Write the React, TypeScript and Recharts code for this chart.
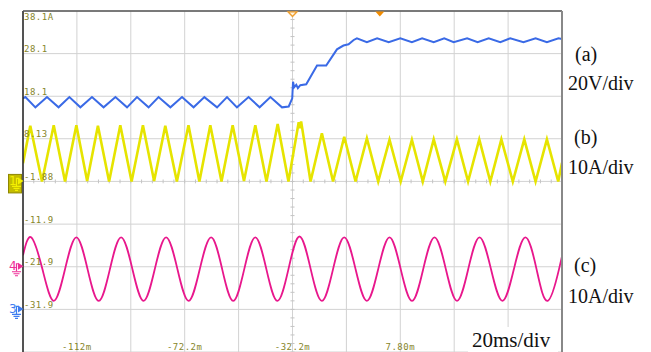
import React from 'react';
import { LineChart, Line, XAxis, YAxis, CartesianGrid, ReferenceLine, ReferenceDot } from 'recharts';

// Time axis (ms) and vertical scale (grid units, 10 per division)
const X_MIN = -132.2;
const X_MAX = 67.8;
const Y_MIN = -41.9;
const Y_MAX = 38.1;

const gridTimes = [-132.2, -112.2, -92.2, -72.2, -52.2, -32.2, -12.2, 7.8, 27.8, 47.8, 67.8];
const xLabelTimes = [-112.2, -72.2, -32.2, 7.8];
const xLabelTexts = ['-112m', '-72.2m', '-32.2m', '7.80m'];

const yTickValues = [38.1, 28.1, 18.1, 8.13, -1.88, -11.9, -21.9, -31.9, -41.9];
const yTickTexts = ['38.1A', '28.1', '18.1', '8.13', '-1.88', '-11.9', '-21.9', '-31.9', ''];

// (a) blue trace: [time ms, value]
const traceA: [number, number][] = [
  [-132.2, 17.6], [-131.3, 17.9], [-127.6, 15.5], [-123.3, 17.9], [-119.0, 15.5], [-115.0, 17.9],
  [-110.9, 15.5], [-106.6, 17.9], [-102.3, 15.5], [-97.9, 17.9], [-93.6, 15.5], [-89.9, 17.9],
  [-85.6, 15.5], [-81.9, 17.9], [-77.5, 15.5], [-73.2, 17.9], [-68.9, 15.5], [-64.9, 17.9],
  [-60.2, 15.5], [-56.5, 17.9], [-52.8, 15.5], [-48.5, 17.9], [-44.4, 15.5], [-40.4, 17.9],
  [-36.1, 15.5], [-33.6, 15.7], [-32.3, 17.6], [-32.0, 21.5], [-31.6, 20.2], [-30.8, 20.8],
  [-30.2, 20.0], [-29.3, 20.7], [-27.1, 20.9], [-23.1, 25.3], [-19.7, 25.3], [-15.7, 29.1],
  [-13.3, 30.0], [-11.4, 30.3], [-9.5, 31.3], [-8.3, 31.7], [-4.6, 30.8], [-0.8, 31.7],
  [3.5, 30.8], [7.8, 31.7], [12.1, 30.8], [15.9, 31.7], [20.2, 30.8], [24.1, 31.7],
  [27.6, 30.8], [32.6, 31.7], [36.5, 30.8], [40.6, 31.7], [44.9, 30.8], [48.6, 31.7],
  [53.5, 30.8], [58.0, 31.7], [62.2, 30.8], [66.5, 31.7], [67.8, 31.5],
];

// (b) yellow trace
const traceB: [number, number][] = [
  [-132.2, 2.4], [-129.5, 11.2], [-125.15, -1.9], [-120.8, 11.3], [-116.6, -1.9], [-112.4, 11.3],
  [-108.4, -1.8], [-104.4, 11.2], [-100.25, -1.9], [-96.1, 11.3], [-91.9, -1.9], [-87.7, 11.3],
  [-83.55, -1.8], [-79.4, 11.2], [-75.1, -1.9], [-70.8, 11.3], [-66.75, -1.9], [-62.7, 11.3],
  [-58.55, -1.9], [-54.4, 11.3], [-50.2, -1.8], [-46.0, 11.3], [-41.85, -1.9], [-37.7, 11.6],
  [-33.7, -1.9], [-29.9, 12.0], [-29.4, 10.6], [-29.0, 12.2], [-25.5, -1.9], [-21.3, 9.4],
  [-17.15, -1.9], [-13.0, 8.6], [-8.8, -1.9], [-4.6, 8.2], [-0.4, -1.9], [3.8, 7.9],
  [7.95, -1.9], [12.1, 7.9], [16.15, -1.9], [20.2, 8.0], [24.5, -1.9], [28.8, 8.0],
  [32.95, -1.9], [37.1, 8.0], [41.2, -1.9], [45.3, 8.0], [49.55, -1.9], [53.8, 8.0],
  [58.0, -1.9], [62.2, 8.0], [66.4, -1.9], [67.8, 2.5],
];

// (c) magenta trace
const traceC: [number, number][] = [
  [-132.2, -19.2], [-129.2, -15.0], [-125.0, -22.45], [-120.8, -29.9], [-116.6, -22.45], [-112.4, -15.0],
  [-108.25, -22.45], [-104.1, -29.9], [-99.95, -22.45], [-95.8, -15.0], [-91.6, -22.45], [-87.45, -29.9],
  [-83.3, -22.45], [-79.1, -15.0], [-74.9, -22.45], [-70.75, -29.9], [-66.6, -22.45], [-62.4, -15.0],
  [-58.3, -22.45], [-54.2, -29.9], [-50.1, -22.45], [-46.0, -15.0], [-41.9, -22.45], [-37.8, -29.9],
  [-33.7, -22.45], [-29.6, -14.8], [-25.45, -22.45], [-21.3, -29.9], [-17.15, -22.45], [-13.0, -15.0],
  [-8.8, -22.45], [-4.6, -29.9], [-0.4, -22.45], [3.8, -15.0], [7.95, -22.45], [12.15, -29.9],
  [16.3, -22.45], [20.5, -15.0], [24.7, -22.45], [28.85, -29.9], [33.0, -22.45], [37.2, -15.0],
  [41.45, -22.45], [45.7, -29.9], [49.95, -22.45], [54.2, -15.0], [58.35, -22.45], [62.5, -29.9],
  [66.7, -22.45], [67.8, -19.4],
];

const toRows = (arr: [number, number][]) => arr.map(([t, v]) => ({ t, v }));
const dataA = toRows(traceA);
const dataB = toRows(traceB);
const dataC = toRows(traceC);

const CENTER_T = -32.2;
const CENTER_V = -1.88;
const TRIGGER_T = 0.2;

// minor ticks along center lines (5 per division)
const minorTimes: number[] = [];
for (let i = 0; i <= 50; i++) minorTimes.push(X_MIN + i * 4);
const minorVals: number[] = [];
for (let i = 0; i <= 40; i++) minorVals.push(Y_MAX - i * 2);

const LABEL_COLOR = '#87862a';
const MONO = "'DejaVu Sans Mono', monospace";
const SERIF = "'Liberation Serif', 'Times New Roman', serif";

const XTick = (props: any) => {
  const { x, payload } = props;
  const idx = xLabelTimes.findIndex((t) => Math.abs(t - payload.value) < 0.01);
  if (idx < 0) return <g />;
  return (
    <text x={x} y={350} textAnchor="middle" fontFamily={MONO} fontSize={9} letterSpacing={0.5} fill={LABEL_COLOR}>
      {xLabelTexts[idx]}
    </text>
  );
};

const YTick = (props: any) => {
  const { y, payload } = props;
  const idx = yTickValues.findIndex((v) => Math.abs(v - payload.value) < 0.001);
  if (idx < 0 || !yTickTexts[idx]) return <g />;
  const yy = idx === 0 ? y + 8.5 : y - 1.5;
  return (
    <text x={24} y={yy} textAnchor="start" fontFamily={MONO} fontSize={9} letterSpacing={0.5} fill={LABEL_COLOR}>
      {yTickTexts[idx]}
    </text>
  );
};

const ChannelMarker = (color: string, digit: string, boxed: boolean) => (props: any) => {
  const { cx, cy } = props;
  const x0 = cx - 15;
  const c = boxed ? '#f4f000' : color;
  return (
    <g>
      {boxed && (
        <rect x={x0 + 0.5} y={cy - 7} width={13} height={18.5} fill="#c4bc00" stroke="#8f8700" strokeWidth={1} />
      )}
      <text x={x0 + 1} y={cy + 3.5} fontFamily="'DejaVu Sans', sans-serif" fontSize={12} fill={c}>
        {digit}
      </text>
      <path d={`M${x0 + 8.5} ${cy + 4.5} L${x0 + 8.5} ${cy - 3} L${x0 + 10.5} ${cy - 3}`} stroke={c} fill="none" strokeWidth={1.2} />
      <path d={`M${x0 + 4} ${cy + 5} L${x0 + 13} ${cy + 5} M${x0 + 5.5} ${cy + 7} L${x0 + 11.5} ${cy + 7} M${x0 + 7} ${cy + 9} L${x0 + 10} ${cy + 9}`} stroke={c} strokeWidth={1.2} />
      <path d={`M${x0 + 10} ${cy - 4} L${x0 + 15.5} ${cy - 0.5} L${x0 + 10} ${cy + 3} Z`} fill={c} />
    </g>
  );
};

const HollowTri = (props: any) => {
  const { cx, cy } = props;
  return <path d={`M${cx - 4.5} ${cy + 0.8} L${cx + 4.5} ${cy + 0.8} L${cx} ${cy + 5.5} Z`} fill="#fff4e0" stroke="#f0a030" strokeWidth={1.3} />;
};
const FilledTri = (props: any) => {
  const { cx, cy } = props;
  return <path d={`M${cx - 4.5} ${cy + 0.5} L${cx + 4.5} ${cy + 0.5} L${cx} ${cy + 5.5} Z`} fill="#f28c00" />;
};

export default function App() {
  return (
    <div style={{ position: 'absolute', left: 0, top: 0, width: 651, height: 352, background: '#fff', overflow: 'hidden' }}>
      <LineChart width={651} height={353} margin={{ top: 11, right: 89, bottom: 0, left: 22 }}>
        <CartesianGrid stroke="#d2d2d2" strokeWidth={1} />
        <XAxis
          type="number"
          dataKey="t"
          domain={[X_MIN, X_MAX]}
          ticks={gridTimes}
          allowDataOverflow
          height={1}
          axisLine={false}
          tickLine={false}
          tickSize={0}
          tickMargin={0}
          interval={0}
          tick={<XTick />}
        />
        <YAxis
          type="number"
          domain={[Y_MIN, Y_MAX]}
          ticks={yTickValues}
          allowDataOverflow
          width={1}
          axisLine={false}
          tickLine={false}
          tickSize={0}
          tickMargin={0}
          interval={0}
          tick={<YTick />}
        />
        {minorTimes.map((t) => (
          <ReferenceLine key={'mt' + t} segment={[{ x: t, y: CENTER_V - 0.45 }, { x: t, y: CENTER_V + 0.45 }]} stroke="#c4c4c4" strokeWidth={1} />
        ))}
        {minorVals.map((v) => (
          <ReferenceLine key={'mv' + v} segment={[{ x: CENTER_T - 0.75, y: v }, { x: CENTER_T + 0.75, y: v }]} stroke="#c4c4c4" strokeWidth={1} />
        ))}
        <Line data={dataC} dataKey="v" type="natural" stroke="#e8178c" strokeWidth={1.8} dot={false} isAnimationActive={false} />
        <Line data={dataB} dataKey="v" type="linear" stroke="#e6e400" strokeWidth={2.6} dot={false} isAnimationActive={false} />
        <Line data={dataA} dataKey="v" type="linear" stroke="#3a6ae6" strokeWidth={2} dot={false} isAnimationActive={false} />
        <ReferenceLine x={X_MIN} stroke="#222" strokeWidth={1.5} />
        <ReferenceLine y={Y_MAX} stroke="#555" strokeWidth={1.5} />
        <ReferenceLine x={X_MAX} stroke="#888" strokeWidth={2} />
        <ReferenceDot x={CENTER_T} y={Y_MAX} r={0} shape={HollowTri} ifOverflow="visible" />
        <ReferenceDot x={TRIGGER_T} y={Y_MAX} r={0} shape={FilledTri} ifOverflow="visible" />
        <ReferenceDot x={X_MIN} y={CENTER_V} r={0} shape={ChannelMarker('#c4bc00', '1', true)} ifOverflow="visible" />
        <ReferenceDot x={X_MIN} y={-21.9} r={0} shape={ChannelMarker('#ee2f96', '4', false)} ifOverflow="visible" />
        <ReferenceDot x={X_MIN} y={-31.9} r={0} shape={ChannelMarker('#3f7cf0', '3', false)} ifOverflow="visible" />
      </LineChart>
      <svg width={651} height={352} style={{ position: 'absolute', left: 0, top: 0, pointerEvents: 'none' }}>
        <rect x={468} y={327} width={90} height={25} fill="#fff" />
        <text x={472} y={346.5} fontFamily={SERIF} fontSize={21} fill="#111">20ms/div</text>
        <text x={575} y={61} fontFamily={SERIF} fontSize={20} fill="#111">(a)</text>
        <text x={568} y={90} fontFamily={SERIF} fontSize={20} fill="#111">20V/div</text>
        <text x={574} y={144} fontFamily={SERIF} fontSize={20} fill="#111">(b)</text>
        <text x={568} y={174} fontFamily={SERIF} fontSize={20} fill="#111">10A/div</text>
        <text x={574} y={272} fontFamily={SERIF} fontSize={20} fill="#111">(c)</text>
        <text x={568} y={303} fontFamily={SERIF} fontSize={20} fill="#111">10A/div</text>
      </svg>
    </div>
  );
}
